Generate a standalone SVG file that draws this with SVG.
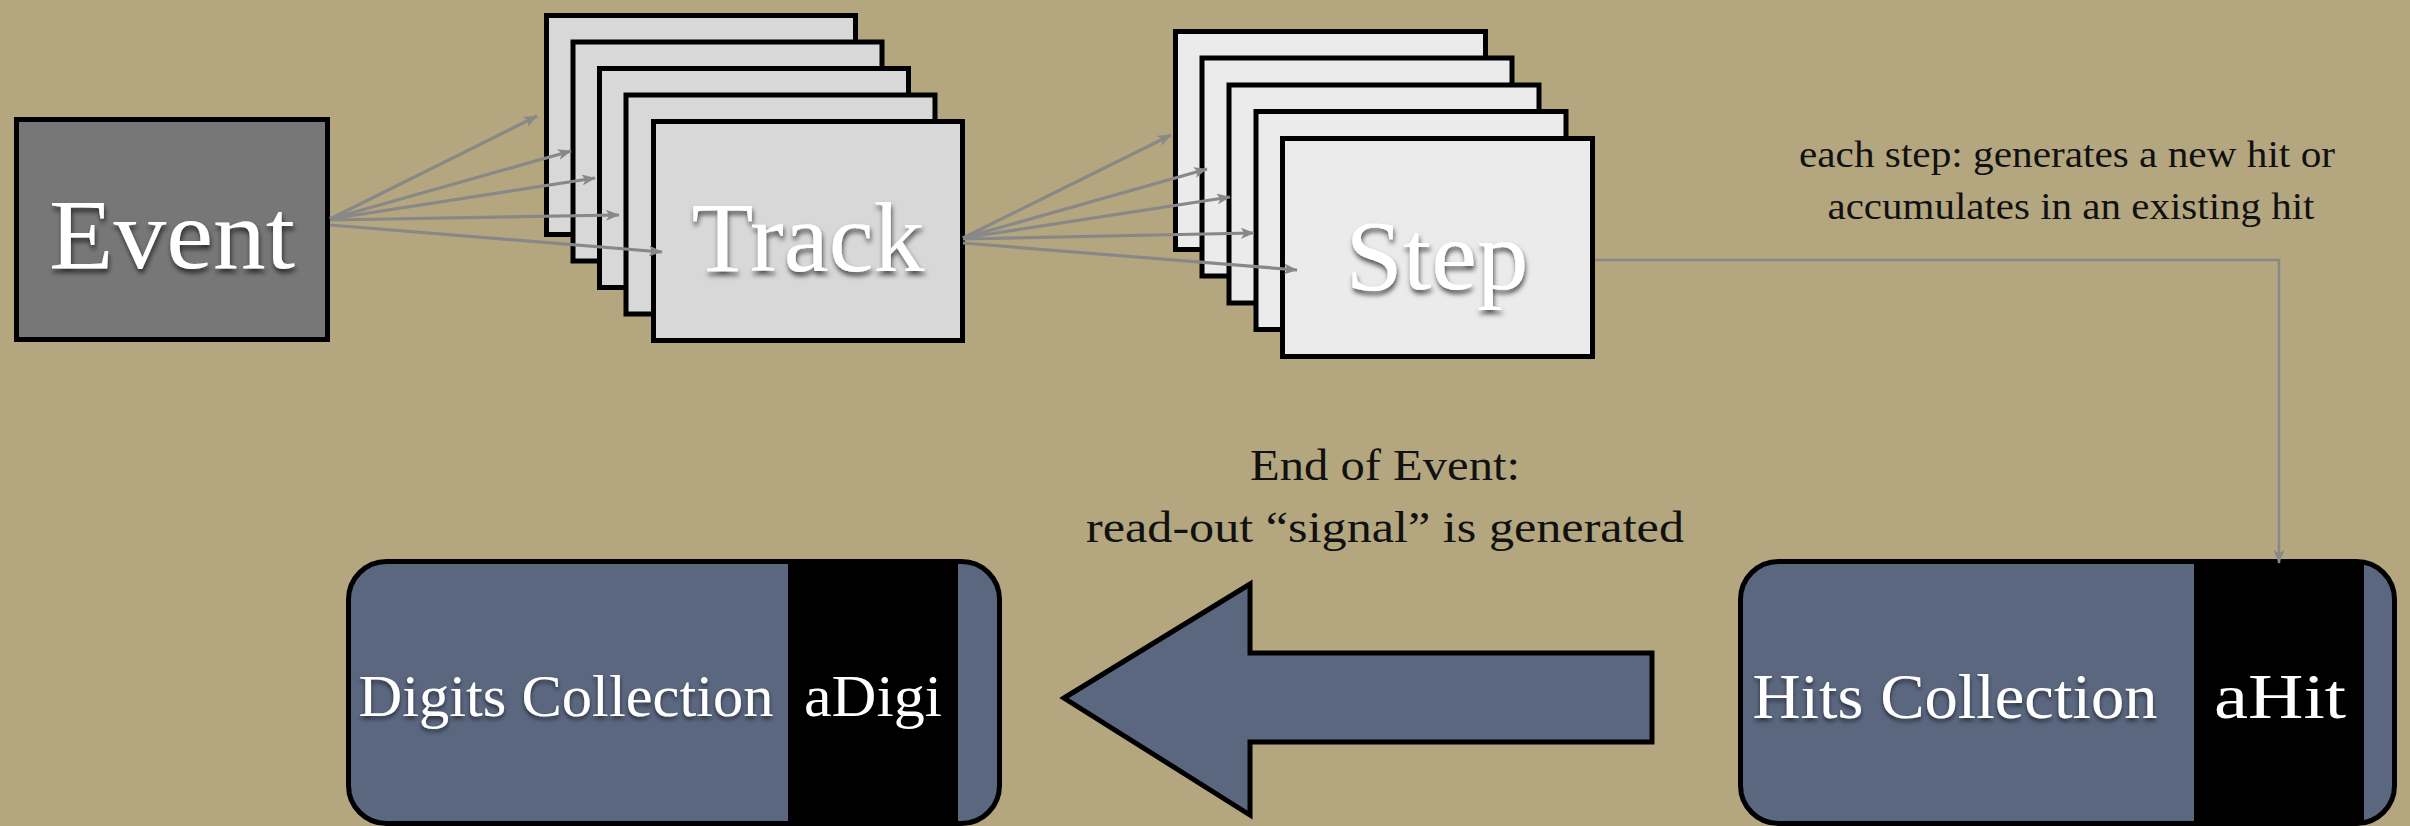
<svg xmlns="http://www.w3.org/2000/svg" width="2410" height="826" viewBox="0 0 2410 826">
  <style>
    .big { font-family: "Liberation Serif", serif; font-size: 100px; fill: #ffffff; text-anchor: middle; }
    .note { font-family: "Liberation Serif", serif; fill: #111111; text-anchor: middle; }
    .coll { font-family: "Liberation Serif", serif; fill: #ffffff; text-anchor: middle; }
    .stack { stroke: #000000; stroke-width: 5; }
    .trk { fill: #d8d8d8; }
    .stp { fill: #ebebeb; }
    .thin { fill: none; stroke: #888888; stroke-width: 3.2; marker-end: url(#ah); }
  </style>
  <defs>
    <marker id="ah" viewBox="0 0 10 8" markerWidth="14" markerHeight="11" refX="9.5" refY="4" orient="auto" markerUnits="userSpaceOnUse">
      <path d="M0,0 L10,4 L0,8 L2.5,4 z" fill="#888888"/>
    </marker>
    <filter id="sh" x="-10%" y="-20%" width="130%" height="150%">
      <feDropShadow dx="1" dy="4" stdDeviation="2.5" flood-color="#000000" flood-opacity="0.65"/>
    </filter>
    <filter id="shs" x="-10%" y="-20%" width="130%" height="150%">
      <feDropShadow dx="0" dy="3" stdDeviation="2" flood-color="#000000" flood-opacity="0.55"/>
    </filter>
    <clipPath id="clipDigi"><rect x="348.5" y="561.5" width="651" height="262" rx="38"/></clipPath>
    <clipPath id="clipHit"><rect x="1740.5" y="561.5" width="654" height="262" rx="38"/></clipPath>
  </defs>

  <rect x="0" y="0" width="2410" height="826" fill="#b4a67f"/>

  <g id="event">
    <rect x="16.5" y="119.5" width="311" height="220" fill="#777777" stroke="#000000" stroke-width="5"/>
    <text class="big" x="172" y="268" textLength="246" lengthAdjust="spacingAndGlyphs" filter="url(#sh)">Event</text>
  </g>

  <g id="track">
    <rect class="stack trk" x="546.5" y="15.5" width="309" height="219"/>
    <rect class="stack trk" x="573" y="42" width="309" height="219"/>
    <rect class="stack trk" x="599.5" y="68.5" width="309" height="219"/>
    <rect class="stack trk" x="626" y="95" width="309" height="219"/>
    <rect class="stack trk" x="653.5" y="121.5" width="309" height="219"/>
    <text class="big" x="808" y="271" textLength="233" lengthAdjust="spacingAndGlyphs" filter="url(#sh)">Track</text>
  </g>

  <g id="step">
    <rect class="stack stp" x="1175.5" y="31.5" width="310" height="218"/>
    <rect class="stack stp" x="1202" y="58" width="310" height="218"/>
    <rect class="stack stp" x="1229" y="85" width="310" height="218"/>
    <rect class="stack stp" x="1256" y="111.5" width="310" height="218"/>
    <rect class="stack stp" x="1282.5" y="138.5" width="310" height="218"/>
    <text class="big" x="1437" y="289" textLength="183" lengthAdjust="spacingAndGlyphs" filter="url(#sh)">Step</text>
  </g>

  <g id="step-note">
    <text class="note" x="2067" y="167" font-size="38" textLength="536" lengthAdjust="spacingAndGlyphs">each step: generates a new hit or</text>
    <text class="note" x="2071" y="219" font-size="38" textLength="487" lengthAdjust="spacingAndGlyphs">accumulates in an existing hit</text>
  </g>

  <g id="digits-collection">
    <rect x="348.5" y="561.5" width="651" height="262" rx="38" fill="#5a677f"/>
    <rect x="788" y="555" width="170" height="275" fill="#000000" clip-path="url(#clipDigi)"/>
    <rect x="348.5" y="561.5" width="651" height="262" rx="38" fill="none" stroke="#000000" stroke-width="5"/>
    <text class="coll" x="566" y="716" font-size="60" textLength="415" lengthAdjust="spacingAndGlyphs" filter="url(#shs)">Digits Collection</text>
    <text class="coll" x="873" y="716" font-size="60" textLength="138" lengthAdjust="spacingAndGlyphs">aDigi</text>
  </g>

  <g id="hits-collection">
    <rect x="1740.5" y="561.5" width="654" height="262" rx="38" fill="#5a677f"/>
    <rect x="2194" y="555" width="170" height="275" fill="#000000" clip-path="url(#clipHit)"/>
    <rect x="1740.5" y="561.5" width="654" height="262" rx="38" fill="none" stroke="#000000" stroke-width="5"/>
    <text class="coll" x="1955" y="718" font-size="64" textLength="405" lengthAdjust="spacingAndGlyphs" filter="url(#shs)">Hits Collection</text>
    <text class="coll" x="2280" y="718" font-size="64" textLength="132" lengthAdjust="spacingAndGlyphs">aHit</text>
  </g>

  <g id="connectors">
    <line class="thin" x1="330" y1="219" x2="537" y2="116"/>
    <line class="thin" x1="330" y1="219" x2="571" y2="151"/>
    <line class="thin" x1="330" y1="219" x2="595" y2="178"/>
    <line class="thin" x1="330" y1="220" x2="619" y2="215"/>
    <line class="thin" x1="330" y1="225" x2="662" y2="252"/>

    <line class="thin" x1="963" y1="238" x2="1171" y2="135"/>
    <line class="thin" x1="963" y1="238" x2="1207" y2="169"/>
    <line class="thin" x1="963" y1="238" x2="1230" y2="197"/>
    <line class="thin" x1="963" y1="239" x2="1254" y2="233"/>
    <line class="thin" x1="963" y1="243" x2="1297" y2="270"/>

    <path d="M1595,260 H2279 V563" fill="none" stroke="#888888" stroke-width="2.5" marker-end="url(#ah)"/>

    <g id="end-of-event">
      <polygon points="1064,698 1250,584 1250,653 1652,653 1652,742 1250,742 1250,815" fill="#5a677f" stroke="#000000" stroke-width="5" stroke-linejoin="miter"/>
      <text class="note" x="1385" y="480" font-size="45" textLength="270" lengthAdjust="spacingAndGlyphs">End of Event:</text>
      <text class="note" x="1385" y="542" font-size="45" textLength="598" lengthAdjust="spacingAndGlyphs">read-out “signal” is generated</text>
    </g>
  </g>
</svg>
